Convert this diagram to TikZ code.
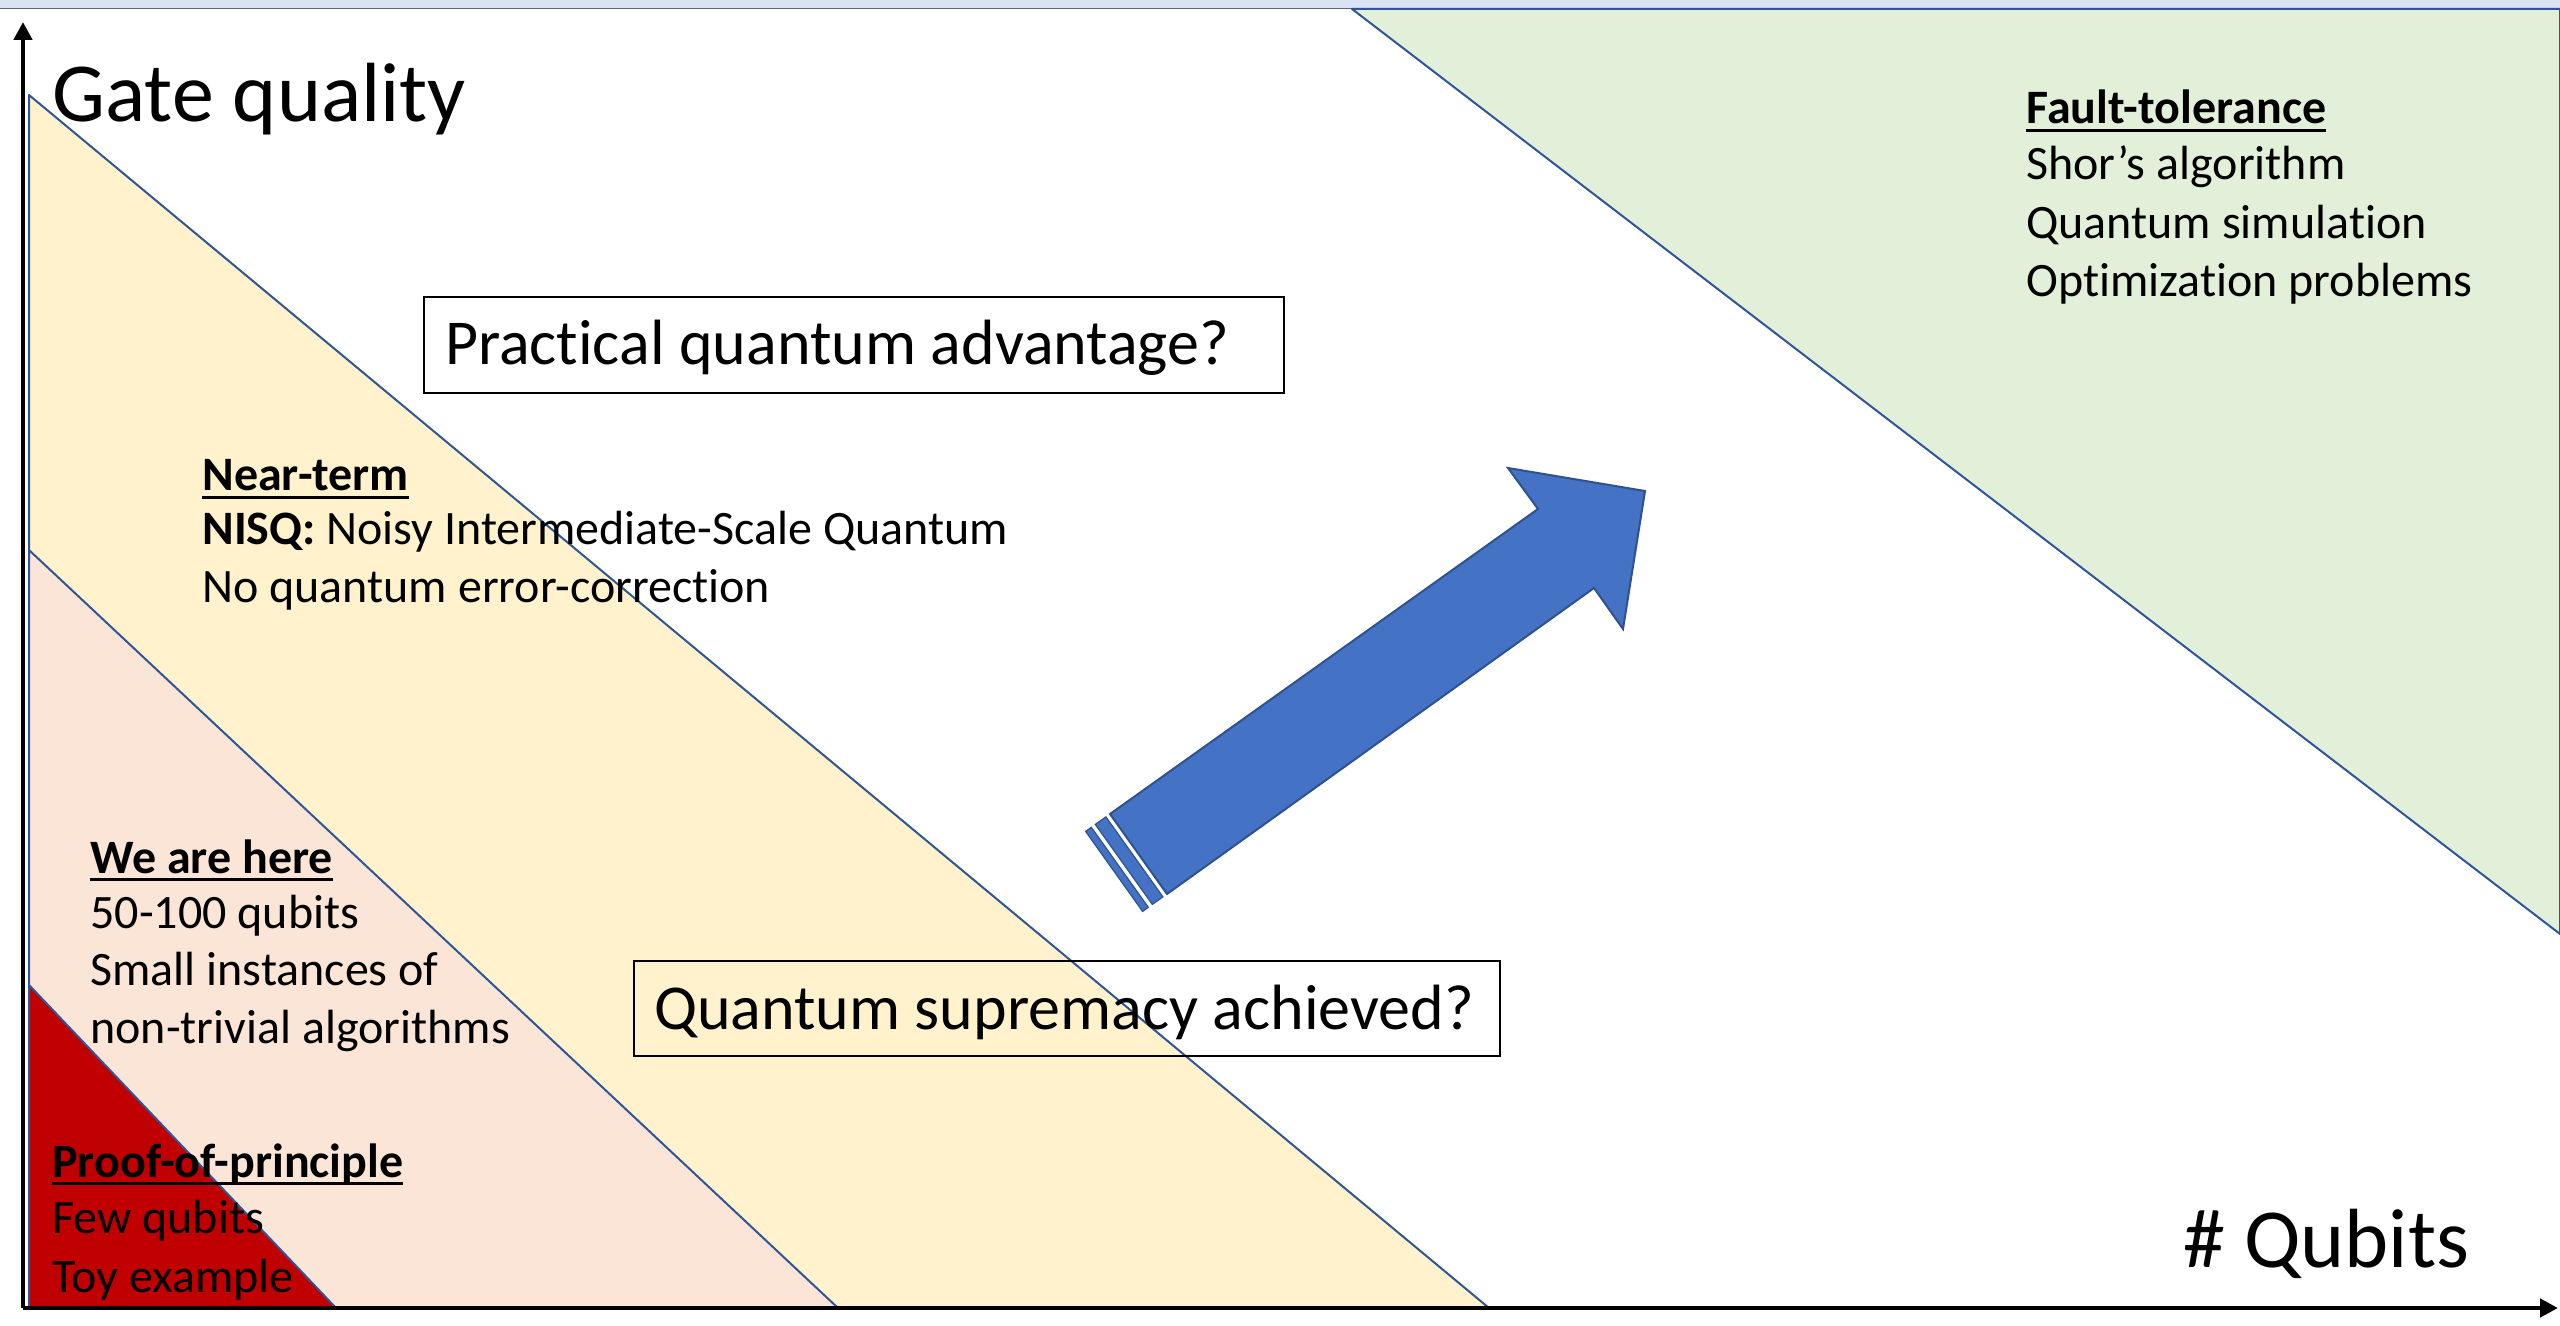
\documentclass[tikz,border=0pt]{standalone}
\usepackage{fontspec}
\setmainfont{Carlito}[RawFeature=-liga]
\usetikzlibrary{arrows.meta}
\definecolor{yellowfill}{HTML}{FFF2CC}
\definecolor{pinkfill}{HTML}{FBE5D6}
\definecolor{redfill}{HTML}{C00000}
\definecolor{greenfill}{HTML}{E2F0D9}
\definecolor{bandfill}{HTML}{DAE3F3}
\definecolor{edgeblue}{HTML}{2F5597}
\definecolor{arrowfill}{HTML}{4472C4}
\definecolor{arrowedge}{HTML}{2F528F}
\newcommand{\myul}[1]{{\setbox0\hbox{#1}\rlap{\rule[-3.9pt]{\wd0}{1.3pt}}\box0}}
\begin{document}
\begin{tikzpicture}[x=0.5pt,y=-0.5pt,
  region/.style={draw=edgeblue,line width=1pt,line join=round},
  axisline/.style={line width=2.25pt,-{Triangle[length=9pt,width=9pt]}},
  smalltext/.style={font=\fontsize{24}{29}\selectfont,anchor=base west,inner sep=0pt},
  bigtext/.style={font=\fontsize{42}{50}\selectfont,anchor=base west,inner sep=0pt},
  qbox/.style={draw=black,line width=1pt,anchor=north west,
    font=\fontsize{32}{38}\selectfont,inner ysep=0pt}]
\useasboundingbox (0,0) rectangle (2560,1326);
\fill[white] (0,0) rectangle (2560,1326);
% top band
\fill[bandfill] (0,0) rectangle (2560,8.5);
\draw[color=black!60,line width=0.8pt] (0,8.5) -- (2560,8.5);
% regions
\filldraw[region,fill=yellowfill] (29,95) -- (1489,1308) -- (29,1308) -- cycle;
\filldraw[region,fill=pinkfill] (29,550) -- (838,1308) -- (29,1308) -- cycle;
\filldraw[region,fill=redfill] (29,985) -- (336,1308) -- (29,1308) -- cycle;
\filldraw[region,fill=greenfill] (1352,9) -- (2560,9) -- (2560,934) -- cycle;
% axes
\coordinate (origin) at (23,1308);
\coordinate (ytip) at (23,22);
\coordinate (xtip) at (2558,1308);
\draw[axisline] (origin) -- (ytip);
\draw[axisline] (origin) -- (xtip);
% axis labels
\node[bigtext] (ylabel) at (52,122) {Gate quality};
\node[bigtext] (xlabel) at (2183,1267) {\# Qubits};
% boxes
\node[qbox,inner xsep=10.5pt,text height=34pt,text depth=14pt] (practical) at (423,296) {\makebox[409pt][l]{Practical quantum advantage?}};
% arrow
\filldraw[fill=arrowfill,draw=arrowedge,line width=1pt,line join=miter]
  (1645,491) -- (1508,468) -- (1538,509) -- (1110,814) -- (1167,894) -- (1594,588) -- (1623,629) -- cycle;
\filldraw[fill=arrowfill,draw=arrowedge,line width=0.6pt]
  (1105.9,816.9) -- (1095.3,824.4) -- (1152.3,904.4) -- (1162.9,896.9) -- cycle;
\filldraw[fill=arrowfill,draw=arrowedge,line width=0.6pt]
  (1091.3,827.3) -- (1085.6,831.4) -- (1142.6,911.4) -- (1148.3,907.3) -- cycle;
\node[qbox,inner xsep=10pt,text height=34pt,text depth=13.5pt] (supremacy) at (633,960) {\makebox[413pt][l]{Quantum supremacy achieved?}};
% fault tolerance
\node[smalltext] (ft1) at (2026,124) {\myul{\textbf{Fault-tolerance}}};
\node[smalltext] (ft2) at (2026,180) {Shor’s algorithm};
\node[smalltext] (ft3) at (2026,239) {Quantum simulation};
\node[smalltext] (ft4) at (2026,297) {Optimization problems};
% near term
\node[smalltext] (nt1) at (202,491) {\myul{\textbf{Near-term}}};
\node[smalltext] (nt2) at (202,545) {\textbf{NISQ:} Noisy Intermediate-Scale Quantum};
\node[smalltext] (nt3) at (202,603) {No quantum error-correction};
% we are here
\node[smalltext] (wh1) at (90,873) {\myul{\textbf{We are here}}};
\node[smalltext] (wh2) at (90,928) {50-100 qubits};
\node[smalltext] (wh3) at (90,985) {Small instances of};
\node[smalltext] (wh4) at (90,1043) {non-trivial algorithms};
% proof of principle
\node[smalltext] (pp1) at (52,1177) {\myul{\textbf{Proof-of-principle}}};
\node[smalltext] (pp2) at (52,1233) {Few qubits};
\node[smalltext] (pp3) at (52,1292) {Toy example};
\end{tikzpicture}
\end{document}
